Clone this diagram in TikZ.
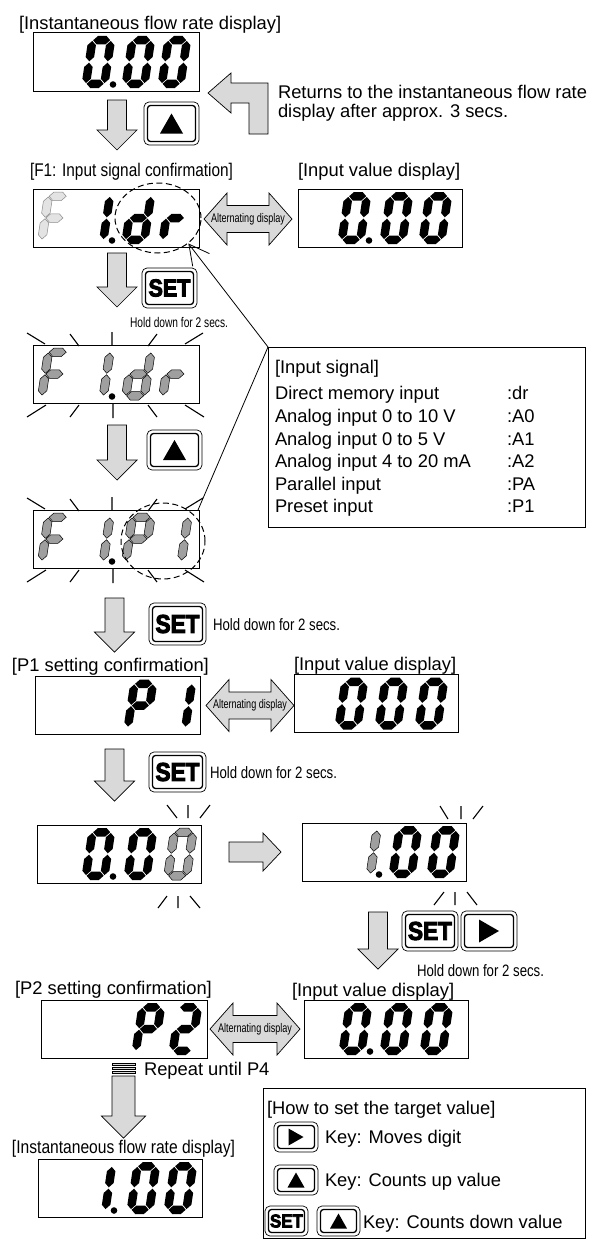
\documentclass[tikz,border=0pt]{standalone}
\usepackage{fontspec}
\setmainfont{Liberation Sans}
\newfontfamily\setfnt[FakeBold=4]{Liberation Sans Bold}
\usepackage{graphicx}
\usetikzlibrary{arrows.meta,shapes.geometric}

% seven segment geometry
\def\dW{27}\def\dH{52}\def\dT{8.5}\def\dG{0.7}
\pgfmathsetmacro\xL{\dT/2}
\pgfmathsetmacro\xR{\dW-\dT/2}
\pgfmathsetmacro\yT{-\dH+\dT/2}
\pgfmathsetmacro\yM{-\dH/2}
\pgfmathsetmacro\yB{-\dT/2}
\pgfmathsetmacro\hxA{\xL+\dG}
\pgfmathsetmacro\hxB{\xR-\dG}
\pgfmathsetmacro\vyA{\yT+\dG}
\pgfmathsetmacro\vyB{\yM-\dG}
\pgfmathsetmacro\vyC{\yM+\dG}
\pgfmathsetmacro\vyD{\yB-\dG}
\newcommand\hseg[4]{\path[#4] (#1,#3) -- ({#1+\dT/2},{#3-\dT/2}) -- ({#2-\dT/2},{#3-\dT/2}) -- (#2,#3) -- ({#2-\dT/2},{#3+\dT/2}) -- ({#1+\dT/2},{#3+\dT/2}) -- cycle;}
\newcommand\vseg[4]{\path[#4] (#3,#1) -- ({#3+\dT/2},{#1+\dT/2}) -- ({#3+\dT/2},{#2-\dT/2}) -- (#3,#2) -- ({#3-\dT/2},{#2-\dT/2}) -- ({#3-\dT/2},{#1+\dT/2}) -- cycle;}
\newcommand\sga[1]{\hseg{\hxA}{\hxB}{\yT}{#1}}
\newcommand\sgg[1]{\hseg{\hxA}{\hxB}{\yM}{#1}}
\newcommand\sgd[1]{\hseg{\hxA}{\hxB}{\yB}{#1}}
\newcommand\sgb[1]{\vseg{\vyA}{\vyB}{\xR}{#1}}
\newcommand\sgc[1]{\vseg{\vyC}{\vyD}{\xR}{#1}}
\newcommand\sge[1]{\vseg{\vyC}{\vyD}{\xL}{#1}}
\newcommand\sgf[1]{\vseg{\vyA}{\vyB}{\xL}{#1}}
\newcommand\sevdig[4]{\begin{scope}[shift={(#1,#2)},xslant=0.15]\foreach \s in {#3}{\csname sg\s\endcsname{#4}}\end{scope}}
\newcommand\dpt[3]{\fill[#3] (#1,#2) circle[radius=3.3];}
\newcommand\dispbox[5]{\node[dispbox, minimum width={#4-#2}, minimum height={#5-#3}] (#1) at ({(#2+#4)/2},{(#3+#5)/2}) {};}
\newcommand\darr[6]{\path[barrow] ({#1-#4},#2) -- ({#1+#4},#2) -- ({#1+#4},{#3-#6}) -- ({#1+#5},{#3-#6}) -- (#1,#3) -- ({#1-#5},{#3-#6}) -- ({#1-#4},{#3-#6}) -- cycle;}
\newcommand\altarr[3]{\path[barrow] (#1,#3) -- ({#1+23},{#3-26}) -- ({#1+23},{#3-13.5}) -- ({#2-23},{#3-13.5}) -- ({#2-23},{#3-26}) -- (#2,#3) -- ({#2-23},{#3+26}) -- ({#2-23},{#3+13.5}) -- ({#1+23},{#3+13.5}) -- ({#1+23},{#3+26}) -- cycle;}
\newcommand\keybox[5]{\draw[line width=0.7, rounded corners=5] (#2,#3) rectangle (#4,#5);
 \draw[line width=1.3, rounded corners=3] ({#2+3.5},{#3+3.5}) rectangle ({#4-3.5},{#5-3.5});
 \coordinate (#1) at ({(#2+#4)/2},{(#3+#5)/2});}
\newcommand\uptri[3]{\fill[shift={(#1)}] (-#2,{#3/2}) -- (#2,{#3/2}) -- (0,{-#3/2}) -- cycle;}
\newcommand\playtri[3]{\fill[shift={(#1)}] ({-#3/2},-#2) -- ({-#3/2},#2) -- ({#3/2},0) -- cycle;}
\newcommand\fn{\fontsize{18.35}{22}\selectfont}
\newcommand\alttxt{\fontsize{12.5}{14}\selectfont\resizebox{74pt}{\height}{Alternating display}}
\newcommand\holdA{\fontsize{14}{16}\selectfont\resizebox{98pt}{\height}{Hold down for 2 secs.}}
\newcommand\holdB{\fontsize{16.5}{18}\selectfont\resizebox{127pt}{\height}{Hold down for 2 secs.}}

\begin{document}
\begin{tikzpicture}[x=1pt,y=-1pt,
  txt/.style={font=\fn, inner sep=0, outer sep=0, anchor=base west},
  dispbox/.style={draw, line width=1, inner sep=0, outer sep=0},
  segK/.style={fill=black},
  segG/.style={fill=gray!75, draw=black, line width=0.5},
  segL/.style={fill=gray!22, draw=gray!90, line width=0.5},
  barrow/.style={fill=gray!30, draw=black, line width=0.7, line join=miter},
  ray/.style={line width=1.1},
  dashcirc/.style={ellipse, draw, line width=1, dash pattern=on 6pt off 3.5pt, inner sep=0},
  setlbl/.style={inner sep=0, outer sep=0}]
\useasboundingbox (0,0) rectangle (603,1239);
\fill[white] (0,0) rectangle (603,1239);

% ---------- Row 1
\node[txt] (t1) at (19,30) {[Instantaneous flow rate display]};
\dispbox{D1}{33}{33}{199}{91}
\sevdig{81}{88}{a,b,c,d,e,f}{segK}\dpt{113}{84.5}{black}
\sevdig{121}{88}{a,b,c,d,e,f}{segK}
\sevdig{157}{88}{a,b,c,d,e,f}{segK}
\darr{117}{100}{150}{9.5}{20}{20}
\keybox{K1}{144}{102}{199}{145}\uptri{K1}{11.5}{20}
\path[barrow] (208,93) -- (231,73) -- (231,83) -- (268,83) -- (268,134) -- (249,134) -- (249,103) -- (231,103) -- (231,113) -- cycle;
\node[txt] (r1) at (278,98) {Returns to the instantaneous flow rate};
\node[txt] (r2) at (278,117) {display after approx. 3 secs.};

% ---------- Row 2 : F1
\node[txt] (t2) at (30,176) {\resizebox{203pt}{\height}{[F1: Input signal confirmation]}};
\node[txt] (t3) at (298,176) {[Input value display]};
\dispbox{D2}{33}{189}{199}{247}
\sevdig{37}{244}{a,e,f,g}{segL}
\sevdig{80}{244}{b,c}{segK}\dpt{112}{240.5}{black}
\sevdig{121}{244}{b,c,d,e,g}{segK}
\sevdig{158}{244}{e,g}{segK}
\node[dashcirc, minimum width=86, minimum height=70] (E1) at (158,218) {};
\altarr{204}{292}{219}
\node[inner sep=0] (al1) at (248,219) {\alttxt};
\dispbox{D3}{298}{189}{462}{247}
\sevdig{337}{244}{a,b,c,d,e,f}{segK}\dpt{369}{240.5}{black}
\sevdig{379}{244}{a,b,c,d,e,f}{segK}
\sevdig{418}{244}{a,b,c,d,e,f}{segK}

% ---------- SET hold
\darr{117}{253}{307}{9.5}{20}{20}
\keybox{K2}{142}{268}{197}{308}
\node[setlbl] (s2) at (K2) {\resizebox{42pt}{17pt}{\setfnt SET}};
\node[txt] (h1) at (130,327) {\holdA};

% ---------- Blink 1
\dispbox{D4}{33}{345}{199}{403}
\sevdig{37}{400}{a,e,f,g}{segG}
\sevdig{80}{400}{b,c}{segG}\dpt{112}{396.5}{black}
\sevdig{121}{400}{b,c,d,e,g}{segG}
\sevdig{158}{400}{e,g}{segG}
\draw[ray] (27,333) -- (45,344) (70,334) -- (79,346) (112,332) -- (112,345) (157,334) -- (148,346) (203,333) -- (185,344);
\draw[ray] (27,417) -- (46,405) (70,417) -- (79,405) (113,404) -- (113,418) (148,405) -- (157,417) (185,405) -- (204,417);

% ---------- Info box
\node[draw, line width=1, inner sep=0, outer sep=0, anchor=north west, minimum width=317, minimum height=180] (info) at (268,347) {};
\node[txt] (i0) at (275,373) {[Input signal]};
\node[txt] (i1) at (275,399) {Direct memory input};
\node[txt] (i1b) at (507,399) {:dr};
\node[txt] (i2) at (275,422) {Analog input 0 to 10 V};
\node[txt] (i2b) at (507,422) {:A0};
\node[txt] (i3) at (275,445) {Analog input 0 to 5 V};
\node[txt] (i3b) at (507,445) {:A1};
\node[txt] (i4) at (275,467.5) {Analog input 4 to 20 mA};
\node[txt] (i4b) at (507,467.5) {:A2};
\node[txt] (i5) at (275,490) {Parallel input};
\node[txt] (i5b) at (507,490) {:PA};
\node[txt] (i6) at (275,512) {Preset input};
\node[txt] (i6b) at (507,512) {:P1};

% ---------- Up key 2
\darr{117}{425}{480}{9.5}{20}{20}
\keybox{K3}{147}{430}{202}{470}\uptri{K3}{11.5}{20}

% ---------- Blink 2
\dispbox{D5}{33}{510}{199}{568}
\sevdig{37}{565}{a,e,f,g}{segG}
\sevdig{80}{565}{b,c}{segG}\dpt{112}{561.5}{black}
\sevdig{121}{565}{a,b,e,f,g}{segG}
\sevdig{158}{565}{b,c}{segG}
\draw[ray] (27,498) -- (45,509) (70,499) -- (79,511) (112,497) -- (112,510) (157,499) -- (148,511) (203,498) -- (185,509);
\draw[ray] (27,582) -- (46,570) (70,582) -- (79,570) (113,569) -- (113,583) (148,570) -- (157,582) (185,570) -- (204,582);
\node[dashcirc, minimum width=84, minimum height=76] (E2) at (163,541) {};

% leaders
\coordinate (L2) at (198,510);
\draw[line width=0.8, {Straight Barb[length=20pt,width=21pt]}-] (E1.-40) -- (info.north west);
\draw[line width=0.8] (info.north west) -- (L2);

% ---------- SET 3
\darr{114.5}{598}{652}{9.5}{20}{20}
\keybox{K4}{149}{603}{206}{645}
\node[setlbl] (s4) at (K4) {\resizebox{44pt}{18pt}{\setfnt SET}};
\node[txt] (h2) at (213,630) {\holdB};

% ---------- P1 row
\node[txt] (t4) at (12,671.5) {[P1 setting confirmation]};
\node[txt] (t5) at (294,670.5) {[Input value display]};
\dispbox{D6}{35}{676.5}{200}{734.5}
\sevdig{123}{731.5}{a,b,e,f,g}{segK}
\sevdig{162}{731.5}{b,c}{segK}
\altarr{206}{294}{705.5}
\node[inner sep=0] (al2) at (250,705.5) {\alttxt};
\dispbox{D7}{294}{674.5}{458}{732.5}
\sevdig{334}{729.5}{a,b,c,d,e,f}{segK}
\sevdig{374}{729.5}{a,b,c,d,e,f}{segK}
\sevdig{414}{729.5}{a,b,c,d,e,f}{segK}

% ---------- SET 4
\darr{114.5}{749}{801}{9.5}{20}{20}
\keybox{K5}{149}{752}{206}{792}
\node[setlbl] (s5) at (K5) {\resizebox{44pt}{18pt}{\setfnt SET}};
\node[txt] (h3) at (210,778) {\holdB};

% ---------- Mid displays
\dispbox{D8}{37}{825}{201}{883}
\sevdig{81}{880}{a,b,c,d,e,f}{segK}\dpt{113}{876.5}{black}
\sevdig{123}{880}{a,b,c,d,e,f}{segK}
\sevdig{163}{880}{a,b,c,d,e,f}{segG}
\draw[ray] (167,805) -- (177,818) (188,805) -- (188,818) (210,805) -- (200,818);
\draw[ray] (167,896) -- (158,908) (178,896) -- (178,908) (190,896) -- (200,908);
\path[barrow] (229,842) -- (263,842) -- (263,833) -- (281,852) -- (263,871) -- (263,862) -- (229,862) -- cycle;
\dispbox{D9}{302}{823}{466}{881}
\sevdig{347}{878}{b,c}{segG}\dpt{379}{874.5}{black}
\sevdig{388}{878}{a,b,c,d,e,f}{segK}
\sevdig{426}{878}{a,b,c,d,e,f}{segK}
\draw[ray] (440,806) -- (448,819) (461,806) -- (461,819) (483,806) -- (473,819);
\draw[ray] (444,892) -- (434,905) (455,892) -- (455,905) (467,892) -- (477,905);

% ---------- SET + right
\darr{378}{912}{969}{9.5}{20}{20}
\keybox{K6}{402}{911}{458}{951}
\node[setlbl] (s6) at (K6) {\resizebox{44pt}{18pt}{\setfnt SET}};
\keybox{K7}{461}{911}{517}{951}\playtri{K7}{11.5}{20}
\node[txt] (h4) at (417,976) {\holdB};

% ---------- P2 row
\node[txt] (t6) at (15,994.5) {[P2 setting confirmation]};
\node[txt] (t7) at (292,996) {[Input value display]};
\dispbox{D10}{41}{1000}{207}{1058}
\sevdig{131}{1055}{a,b,e,f,g}{segK}
\sevdig{168}{1055}{a,b,d,e,g}{segK}
\altarr{210}{300}{1029}
\node[inner sep=0] (al3) at (255,1029) {\alttxt};
\dispbox{D11}{304}{1000}{468}{1058}
\sevdig{338}{1055}{a,b,c,d,e,f}{segK}\dpt{370}{1051.5}{black}
\sevdig{379}{1055}{a,b,c,d,e,f}{segK}
\sevdig{419}{1055}{a,b,c,d,e,f}{segK}

% ---------- Repeat
\path[barrow, line width=0.5] (112,1063) rectangle (135,1065.5);
\path[barrow, line width=0.5] (112,1067) rectangle (135,1069.5);
\path[barrow, line width=0.5] (112,1071) rectangle (135,1073.5);
\node[txt] (rp) at (144,1075) {Repeat until P4};
\darr{123.5}{1076}{1138}{11.5}{22}{22}

% ---------- Bottom display
\node[txt] (t8) at (12,1153.5) {\resizebox{223pt}{\height}{[Instantaneous flow rate display]}};
\dispbox{D12}{38}{1159}{202}{1217}
\sevdig{82}{1214}{b,c}{segK}\dpt{114}{1210.5}{black}
\sevdig{126}{1214}{a,b,c,d,e,f}{segK}
\sevdig{163}{1214}{a,b,c,d,e,f}{segK}

% ---------- Legend
\node[draw, line width=1, inner sep=0, outer sep=0, anchor=north west, minimum width=322, minimum height=150] (leg) at (263,1088) {};
\node[txt] (l0) at (267,1114.5) {[How to set the target value]};
\keybox{K8}{274}{1122}{318}{1152}\playtri{K8}{8.5}{15}
\node[txt] (l1) at (325,1143.5) {Key: Moves digit};
\keybox{K9}{274}{1165}{318}{1195}\uptri{K9}{8.5}{15}
\node[txt] (l2) at (325,1186.5) {Key: Counts up value};
\keybox{K10}{265}{1206}{308}{1236}
\node[setlbl] (s10) at (K10) {\resizebox{33pt}{13pt}{\setfnt SET}};
\keybox{K11}{317}{1206}{360}{1236}\uptri{K11}{8.5}{15}
\node[txt] (l3) at (363,1228.5) {Key: Counts down value};
\end{tikzpicture}
\end{document}
